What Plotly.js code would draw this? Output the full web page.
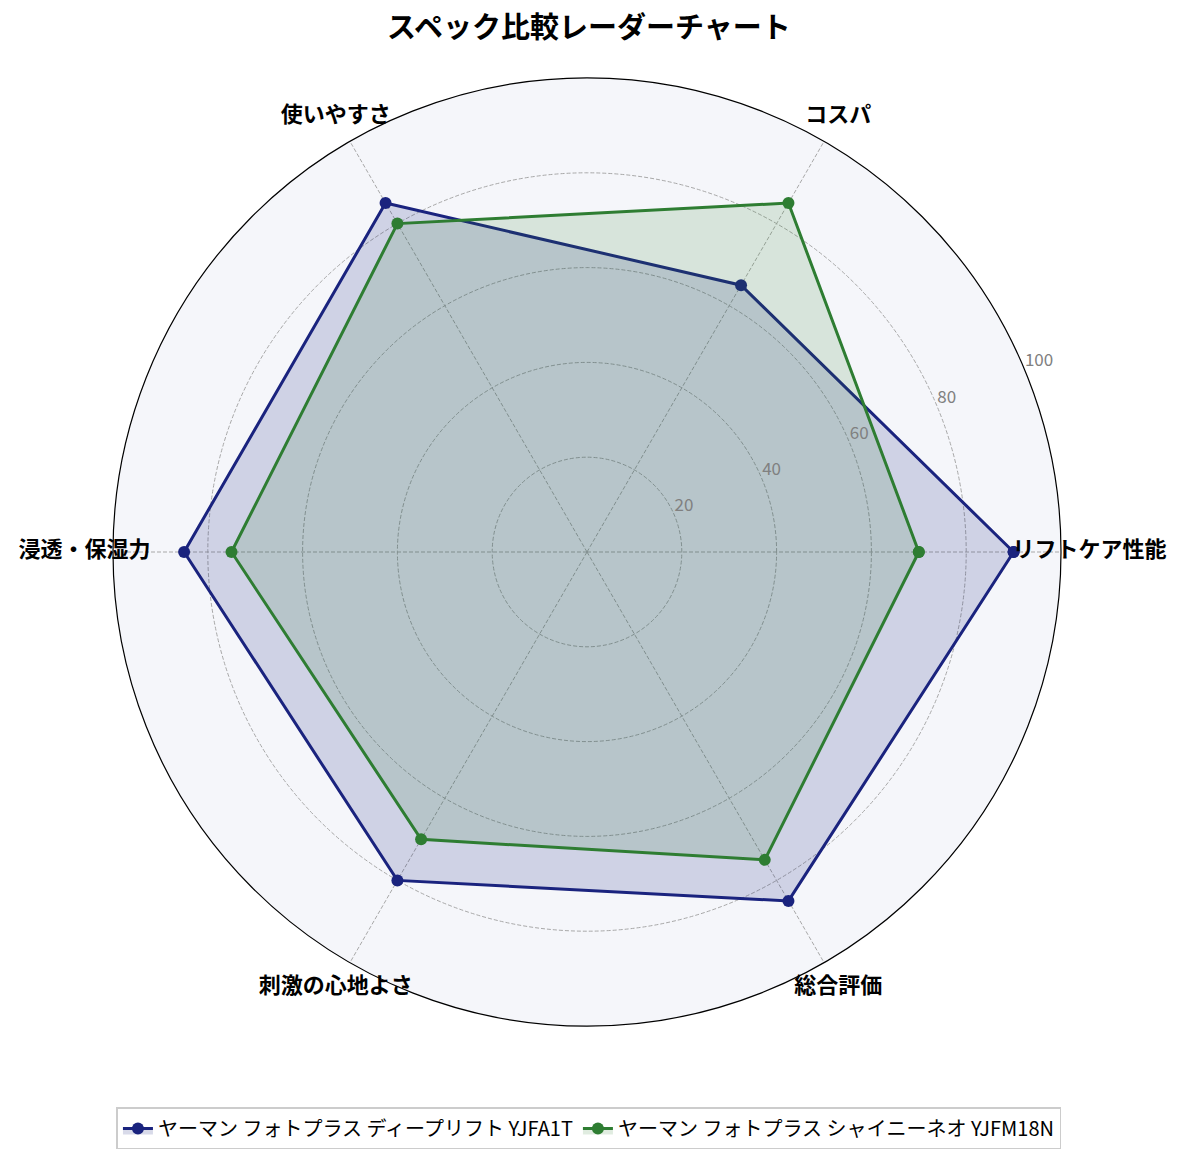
<!DOCTYPE html>
<html>
<head>
<meta charset="utf-8">
<script src="https://cdn.plot.ly/plotly-3.0.1.min.js"></script>
<style>html,body{margin:0;padding:0;background:#fff}#chart{width:1185px;height:1161px}</style>
</head>
<body>
<div id="chart"></div>
<script>
const categories = ["リフトケア性能", "コスパ", "使いやすさ", "浸透・保湿力", "刺激の心地よさ", "総合評価"];
const seriesNames = ["ヤーマン フォトプラス ディープリフト YJFA1T", "ヤーマン フォトプラス シャイニーネオ YJFM18N"];
const deepLift = [90, 65, 85, 85, 80, 85];
const shinyNeo = [70, 85, 80, 75, 70, 75];
const radialTicks = [20, 40, 60, 80, 100];
const colors = ["#1a237e", "#2e7d32"];
const fills = ["rgba(26,35,126,0.17)", "rgba(46,125,50,0.15)"];

// layout constants (pixels)
const W = 1185, H = 1161, CX = 587, CY = 552, RAD = 474;
const labelRadius = 106, outerRange = 108, tickAngle = 22.5;

const jp = '"Noto Sans CJK JP", "Noto Sans", sans-serif';
function closed(a) { return a.concat([a[0]]); }
function domainFor(rpx) {
  return {x: [(CX - rpx) / W, (CX + rpx) / W], y: [(H - CY - rpx) / H, (H - CY + rpx) / H]};
}

const traces = [deepLift, shinyNeo].map((vals, i) => ({
  type: "scatterpolar",
  r: closed(vals),
  theta: closed(categories),
  name: seriesNames[i],
  mode: "lines+markers",
  fill: "toself",
  fillcolor: fills[i],
  line: {color: colors[i], width: 3},
  marker: {color: colors[i], size: 12}
}));

// category labels on an overlay polar with a wider radius
traces.push({
  type: "scatterpolar", subplot: "polar2",
  r: categories.map(() => labelRadius),
  theta: categories.map((c, i) => i * 360 / categories.length),
  mode: "text",
  text: categories.map(c => "<b>" + c + "</b>"),
  textposition: "middle center",
  textfont: {family: jp, size: 22, color: "#000"},
  cliponaxis: false, showlegend: false, hoverinfo: "skip"
});
// radial tick labels
traces.push({
  type: "scatterpolar", subplot: "polar2",
  r: radialTicks,
  theta: radialTicks.map(() => tickAngle),
  mode: "text",
  text: radialTicks.map(String),
  textposition: "top right",
  textfont: {family: jp, size: 17, color: "#808080"},
  cliponaxis: false, showlegend: false, hoverinfo: "skip"
});

const hiddenAxis = {showline: false, showgrid: false, showticklabels: false, ticks: ""};

const layout = {
  width: W, height: H,
  margin: {l: 0, r: 0, t: 0, b: 0},
  paper_bgcolor: "#ffffff",
  font: {family: jp, color: "#000"},
  title: {text: "<b>スペック比較レーダーチャート</b>", x: 0.497, xanchor: "center", y: 0.976, yanchor: "middle",
          font: {family: jp, size: 29, color: "#000"}},
  polar: {
    domain: domainFor(RAD),
    bgcolor: "#f5f6fa",
    angularaxis: {
      rotation: 0, direction: "counterclockwise",
      showline: true, linecolor: "#000", linewidth: 1.2,
      gridcolor: "#a8a8a8", griddash: "4px,2px", gridwidth: 0.8,
      ticks: "", showticklabels: false
    },
    radialaxis: {
      range: [0, 100],
      tickvals: radialTicks, showticklabels: false,
      showline: false, ticks: "",
      gridcolor: "#a8a8a8", griddash: "4px,2px", gridwidth: 0.8
    }
  },
  polar2: {
    domain: domainFor(RAD * outerRange / 100),
    bgcolor: "rgba(0,0,0,0)",
    angularaxis: Object.assign({rotation: 0, direction: "counterclockwise", type: "linear"}, hiddenAxis),
    radialaxis: Object.assign({range: [0, outerRange]}, hiddenAxis)
  },
  showlegend: true,
  legend: {
    orientation: "h", x: 0.497, xanchor: "center", y: 0.028, yanchor: "middle",
    bordercolor: "#cccccc", borderwidth: 1.5, bgcolor: "#fff",
    font: {family: jp, size: 20, color: "#000"}
  }
};

Plotly.newPlot("chart", traces, layout, {displayModeBar: false});
</script>
</body>
</html>
